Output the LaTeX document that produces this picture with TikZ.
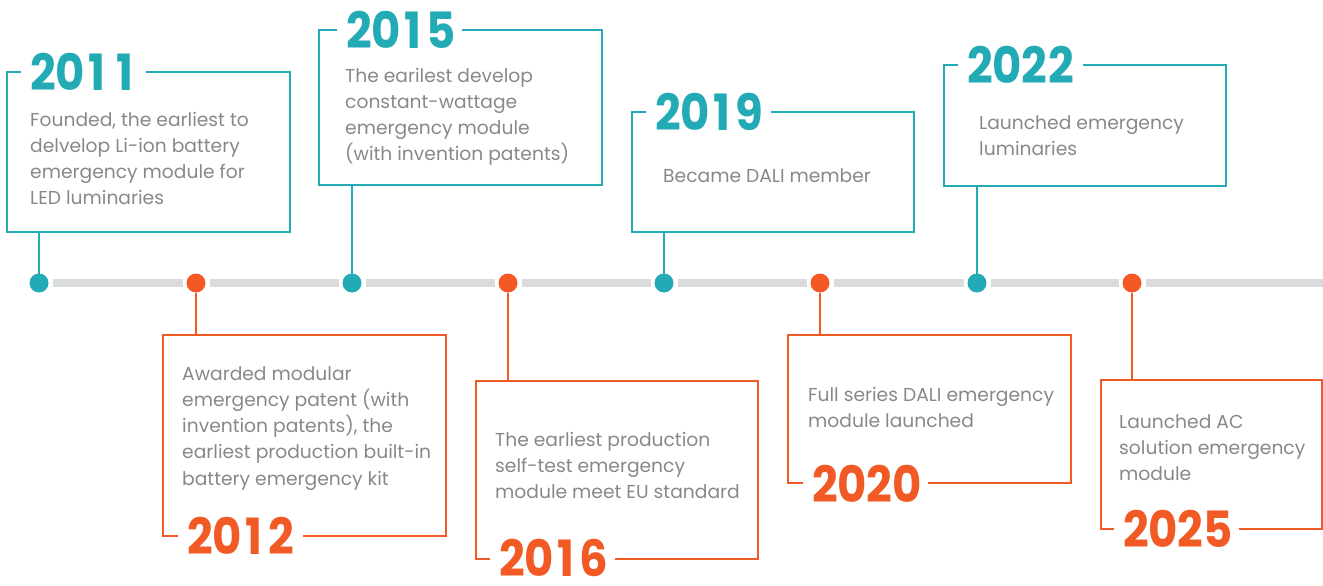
\documentclass[tikz,border=0pt]{standalone}
\usepackage{fontspec}
\setmainfont{Poppins}
\newfontfamily\yearfont[FakeStretch=0.9]{Poppins Bold}
\definecolor{teal}{RGB}{34,170,181}
\definecolor{orng}{RGB}{241,90,36}
\definecolor{tline}{RGB}{218,219,220}
\definecolor{txtgray}{RGB}{136,136,136}
\newcommand{\yrdig}[1]{\makebox[27.3pt][c]{#1}}
\newcommand{\yr}[4]{\yrdig{#1}\yrdig{#2}\yrdig{#3}\yrdig{#4}}
\tikzset{
  tbox/.style={draw=#1, line width=2pt, rectangle, inner sep=0pt, outer sep=0pt},
  tdot/.style={circle, fill=#1, minimum size=19pt, inner sep=0pt, outer sep=0pt},
  tconn/.style={draw=#1, line width=2pt},
  tseg/.style={draw=tline, line width=8pt},
  tyear/.style={fill=white, text=#1, inner xsep=8pt, inner ysep=1pt, anchor=west,
    font=\yearfont\fontsize{50}{50}\selectfont},
  tbody/.style={anchor=base west, inner sep=0pt, text=txtgray}
}
\newcommand{\bodytext}[1]{\parbox[t]{300pt}{\fontsize{18.7}{26.3}\selectfont\raggedright #1}}
\begin{document}
\begin{tikzpicture}[x=1pt,y=-1pt]
\useasboundingbox (0,0) rectangle (1323,586);
% dots
\node[tdot=teal] (d11) at (39,283) {};
\node[tdot=orng] (d12) at (196,283) {};
\node[tdot=teal] (d15) at (352,283) {};
\node[tdot=orng] (d16) at (508,283) {};
\node[tdot=teal] (d19) at (664,283) {};
\node[tdot=orng] (d20) at (820,283) {};
\node[tdot=teal] (d22) at (977,283) {};
\node[tdot=orng] (d25) at (1132,283) {};
\coordinate (lend) at (1323,283);
% timeline segments
\draw[tseg] ([xshift=4pt]d11.east) -- ([xshift=-4pt]d12.west);
\draw[tseg] ([xshift=4pt]d12.east) -- ([xshift=-4pt]d15.west);
\draw[tseg] ([xshift=4pt]d15.east) -- ([xshift=-4pt]d16.west);
\draw[tseg] ([xshift=4pt]d16.east) -- ([xshift=-4pt]d19.west);
\draw[tseg] ([xshift=4pt]d19.east) -- ([xshift=-4pt]d20.west);
\draw[tseg] ([xshift=4pt]d20.east) -- ([xshift=-4pt]d22.west);
\draw[tseg] ([xshift=4pt]d22.east) -- ([xshift=-4pt]d25.west);
\draw[tseg] ([xshift=4pt]d25.east) -- (lend);
% boxes
\node[tbox=teal, minimum width=283pt, minimum height=160pt, anchor=north west] (b11) at (7,72) {};
\node[tbox=orng, minimum width=283pt, minimum height=201pt, anchor=north west] (b12) at (163,335) {};
\node[tbox=teal, minimum width=283pt, minimum height=155pt, anchor=north west] (b15) at (319,30) {};
\node[tbox=orng, minimum width=282pt, minimum height=178pt, anchor=north west] (b16) at (476,381) {};
\node[tbox=teal, minimum width=282pt, minimum height=120pt, anchor=north west] (b19) at (632,112) {};
\node[tbox=orng, minimum width=283pt, minimum height=148pt, anchor=north west] (b20) at (788,335) {};
\node[tbox=teal, minimum width=282pt, minimum height=121pt, anchor=north west] (b22) at (944,65) {};
\node[tbox=orng, minimum width=221pt, minimum height=149pt, anchor=north west] (b25) at (1101,380) {};
% connectors
\draw[tconn=teal] (b11.south -| d11) -- (d11);
\draw[tconn=orng] (b12.north -| d12) -- (d12);
\draw[tconn=teal] (b15.south -| d15) -- (d15);
\draw[tconn=orng] (b16.north -| d16) -- (d16);
\draw[tconn=teal] (b19.south -| d19) -- (d19);
\draw[tconn=orng] (b20.north -| d20) -- (d20);
\draw[tconn=teal] (b22.south -| d22) -- (d22);
\draw[tconn=orng] (b25.north -| d25) -- (d25);
% years
\node[tyear=teal] (y11) at (21,72) {\yr2011};
\node[tyear=orng] (y12) at (178,536) {\yr2012};
\node[tyear=teal] (y15) at (337,30) {\yr2015};
\node[tyear=orng] (y16) at (490,558) {\yr2016};
\node[tyear=teal] (y19) at (646,112) {\yr2019};
\node[tyear=orng] (y20) at (803,484) {\yr2020};
\node[tyear=teal] (y22) at (958,65) {\yr2022};
\node[tyear=orng] (y25) at (1114,529) {\yr2025};
% texts
\node[tbody] (t11) at (30,126) {\bodytext{Founded, the earliest to\\delvelop Li-ion battery\\emergency module for\\LED luminaries}};
\node[tbody] (t12) at (182,380) {\bodytext{Awarded modular\\emergency patent (with\\invention patents), the\\earliest production built-in\\battery emergency kit}};
\node[tbody] (t15) at (345,82) {\bodytext{The earilest develop\\constant-wattage\\emergency module\\(with invention patents)}};
\node[tbody] (t16) at (495,446) {\bodytext{The earliest production\\self-test emergency\\module meet EU standard}};
\node[tbody] (t19) at (663,182) {\bodytext{Became DALI member}};
\node[tbody] (t20) at (808,401) {\bodytext{Full series DALI emergency\\module launched}};
\node[tbody] (t22) at (979,129) {\bodytext{Launched emergency\\luminaries}};
\node[tbody] (t25) at (1119,428) {\bodytext{Launched AC\\solution emergency\\module}};
\end{tikzpicture}
\end{document}
